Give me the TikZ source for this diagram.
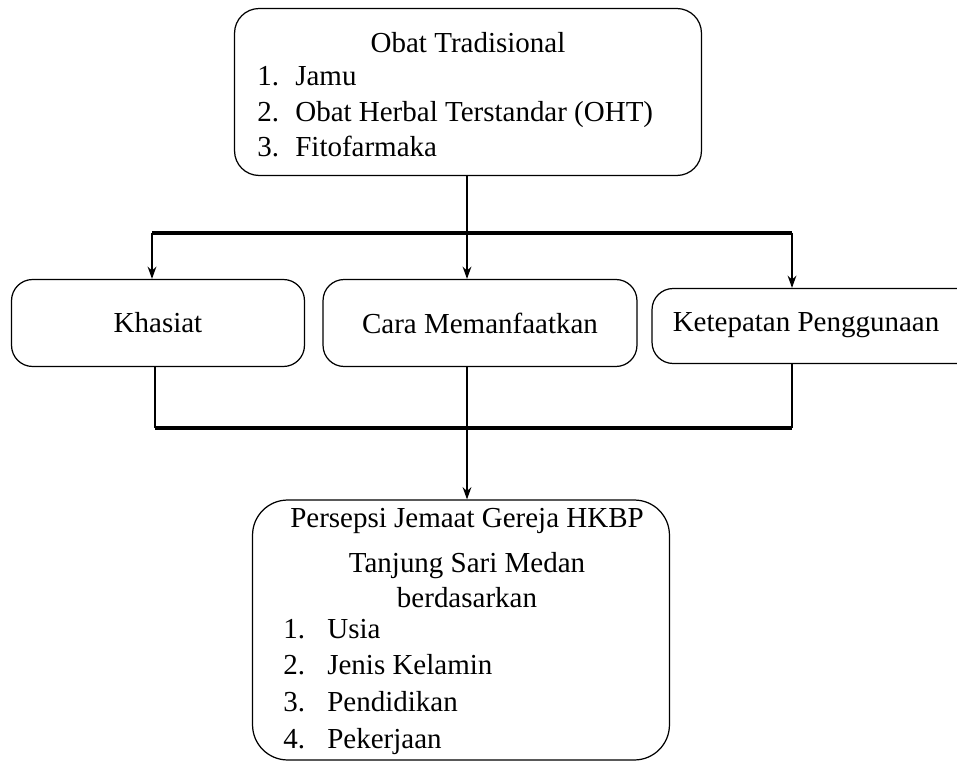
\documentclass[tikz,border=0pt]{standalone}
\usepackage{fontspec}
\setmainfont{Liberation Serif}
\usetikzlibrary{arrows.meta}
\tikzset{
  kotak/.style={draw, line width=0.7pt, rounded corners=12pt, inner sep=0pt},
  garis/.style={line width=0.8pt},
  bus/.style={line width=1.8pt},
  panah/.style={-{Stealth[length=7pt,width=5pt]}, line width=0.8pt}
}

\begin{document}
\begin{tikzpicture}[x=0.02cm,y=-0.02cm,font=\fontsize{16.5}{20}\selectfont]
\useasboundingbox (0,0) rectangle (957,763);
% kotak atas
\node[kotak, rounded corners=14pt, minimum width=9.34cm, minimum height=3.34cm] (obat) at (468,92) {};
\node (judulobat) at (468,43) {Obat Tradisional};
\node[anchor=west, inner sep=0pt] (daftarobat) at (257,114) {\begin{tabular}{@{}p{0.76cm}@{}l@{}}
1. & Jamu\\
2. & Obat Herbal Terstandar (OHT)\\
3. & Fitofarmaka
\end{tabular}};
% kotak tengah
\node[kotak, minimum width=5.86cm, minimum height=1.74cm] (khasiat) at (158,323) {Khasiat};
\node[kotak, minimum width=6.28cm, minimum height=1.74cm] (cara) at (480,323) {Cara Memanfaatkan};
\node[kotak, minimum width=7cm, minimum height=1.5cm] (ketepatan) at (827,326) {};
\node (teksketepatan) at (806,325) {Ketepatan Penggunaan};
% kotak bawah
\node[kotak, rounded corners=20pt, minimum width=8.34cm, minimum height=5.2cm] (persepsi) at (461,630) {};
\node[align=center] (judulpersepsi) at (467,558) {Persepsi Jemaat Gereja HKBP\\[6pt] Tanjung Sari Medan\\ berdasarkan};
\node[anchor=west, inner sep=0pt] (daftarpersepsi) at (283,686) {\renewcommand\arraystretch{1.05}\begin{tabular}{@{}p{0.88cm}@{}l@{}}
1. & Usia\\
2. & Jenis Kelamin\\
3. & Pendidikan\\
4. & Pekerjaan
\end{tabular}};
% titik cabang
\coordinate (atasL) at (152,233);
\coordinate (atasT) at (467,233);
\coordinate (atasR) at (792,233);
\coordinate (bawahL) at (155,428);
\coordinate (bawahT) at (467,428);
\coordinate (bawahR) at (792,428);
% garis penghubung
\draw[garis] (obat.south -| atasT) -- (atasT);
\draw[bus] (atasL) -- (atasR);
\draw[panah] (atasL) -- (atasL |- khasiat.north);
\draw[panah] (atasT) -- (atasT |- cara.north);
\draw[panah] (atasR) -- (atasR |- ketepatan.north);
\draw[garis] (bawahL |- khasiat.south) -- (bawahL);
\draw[garis] (bawahT |- cara.south) -- (bawahT);
\draw[garis] (bawahR |- ketepatan.south) -- (bawahR);
\draw[bus] (bawahL) -- (bawahR);
\draw[panah] (bawahT) -- (bawahT |- persepsi.north);
\end{tikzpicture}
\end{document}
